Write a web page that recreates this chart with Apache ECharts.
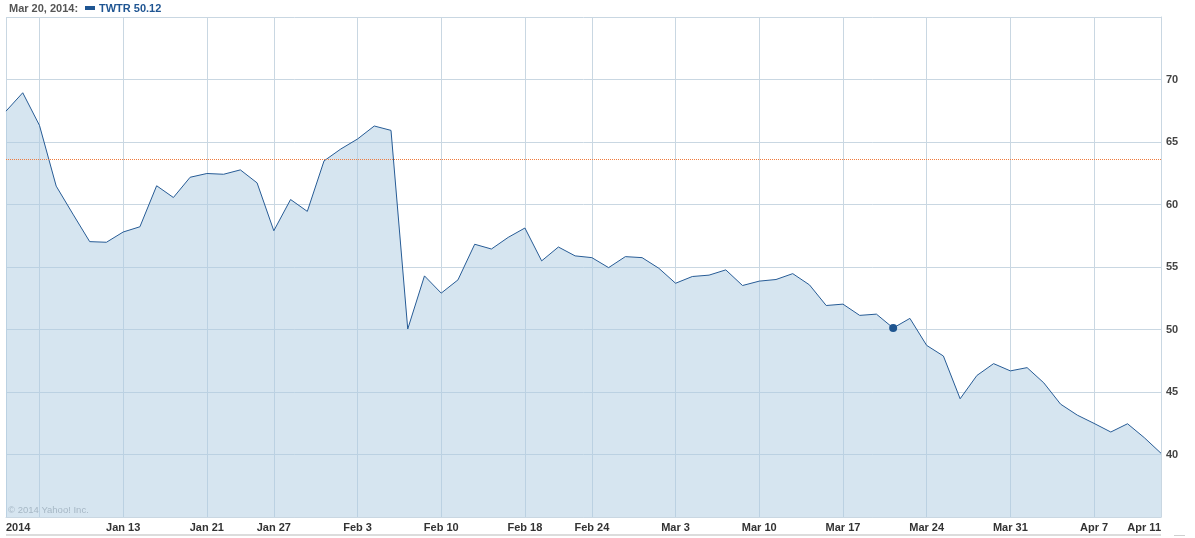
<!DOCTYPE html>
<html>
<head>
<meta charset="utf-8">
<script src="https://cdn.jsdelivr.net/npm/echarts@6/dist/echarts.min.js"></script>
<style>
html,body{margin:0;padding:0;background:#fff;}
#chart{width:1195px;height:538px;}
</style>
</head>
<body>
<div id="chart"></div>
<script>
// Trading days, Jan 2 – Apr 11, 2014
const dates = [
  '2014-01-02','2014-01-03','2014-01-06','2014-01-07','2014-01-08','2014-01-09','2014-01-10',
  '2014-01-13','2014-01-14','2014-01-15','2014-01-16','2014-01-17',
  '2014-01-21','2014-01-22','2014-01-23','2014-01-24',
  '2014-01-27','2014-01-28','2014-01-29','2014-01-30','2014-01-31',
  '2014-02-03','2014-02-04','2014-02-05','2014-02-06','2014-02-07',
  '2014-02-10','2014-02-11','2014-02-12','2014-02-13','2014-02-14',
  '2014-02-18','2014-02-19','2014-02-20','2014-02-21',
  '2014-02-24','2014-02-25','2014-02-26','2014-02-27','2014-02-28',
  '2014-03-03','2014-03-04','2014-03-05','2014-03-06','2014-03-07',
  '2014-03-10','2014-03-11','2014-03-12','2014-03-13','2014-03-14',
  '2014-03-17','2014-03-18','2014-03-19','2014-03-20','2014-03-21',
  '2014-03-24','2014-03-25','2014-03-26','2014-03-27','2014-03-28',
  '2014-03-31','2014-04-01','2014-04-02','2014-04-03','2014-04-04',
  '2014-04-07','2014-04-08','2014-04-09','2014-04-10','2014-04-11'
];
const closes = [
  67.47,68.94,66.33,61.47,59.23,57.03,56.98,
  57.80,58.22,61.50,60.56,62.18,
  62.48,62.42,62.77,61.73,
  57.90,60.40,59.45,63.49,64.44,
  65.24,66.28,65.93,50.04,54.29,
  52.91,53.97,56.82,56.44,57.37,
  58.12,55.49,56.60,55.89,
  55.75,54.95,55.83,55.75,54.90,
  53.70,54.24,54.35,54.77,53.52,
  53.87,54.00,54.47,53.57,51.92,
  52.03,51.13,51.23,50.12,50.89,
  48.73,47.88,44.46,46.32,47.27,
  46.69,46.95,45.73,44.03,43.15,
  42.49,41.80,42.46,41.35,40.10
];
// x-axis tick labels (date -> text)
const tickDates  = ['2014-01-02','2014-01-13','2014-01-21','2014-01-27','2014-02-03','2014-02-10','2014-02-18','2014-02-24','2014-03-03','2014-03-10','2014-03-17','2014-03-24','2014-03-31','2014-04-07','2014-04-11'];
const tickLabels = ['2014','Jan 13','Jan 21','Jan 27','Feb 3','Feb 10','Feb 18','Feb 24','Mar 3','Mar 10','Mar 17','Mar 24','Mar 31','Apr 7','Apr 11'];
// vertical grid lines (week starts)
const gridDates = ['2014-01-02','2014-01-06','2014-01-13','2014-01-21','2014-01-27','2014-02-03','2014-02-10','2014-02-18','2014-02-24','2014-03-03','2014-03-10','2014-03-17','2014-03-24','2014-03-31','2014-04-07'];
const yTicks = [40,45,50,55,60,65,70];
const refLine = 63.64;
const highlightDate = '2014-03-20';
const headerDate = 'Mar 20, 2014:';
const seriesName = 'TWTR';

const labelMap = {};
tickDates.forEach((d,i)=>labelMap[d]=tickLabels[i]);
const gridSet = new Set(gridDates);
const hiIdx = dates.indexOf(highlightDate);

const chart = echarts.init(document.getElementById('chart'), null, {renderer:'canvas'});
const gridColor = '#c9d7e2';
const refColor = '#f07a3c';
const font = '"Liberation Sans", Arial, sans-serif';

chart.setOption({
  animation:false,
  grid:{left:6, right:34, top:17, bottom:21},
  xAxis:{
    type:'category',
    data:dates,
    boundaryGap:false,
    axisLine:{show:true, lineStyle:{color:gridColor, width:1}},
    axisTick:{show:false},
    splitLine:{show:true, interval:(i,v)=>gridSet.has(v), lineStyle:{color:gridColor, width:1}},
    axisLabel:{
      show:true,
      interval:(i,v)=>v in labelMap,
      formatter:(v)=>labelMap[v]||'',
      color:'#333', fontWeight:'bold', fontSize:11, fontFamily:font,
      margin:5,
      alignMinLabel:'left', alignMaxLabel:'right'
    }
  },
  yAxis:{
    type:'value',
    position:'right',
    min:35, max:75, interval:5,
    axisLine:{show:true, lineStyle:{color:gridColor}},
    axisTick:{show:false},
    splitLine:{show:true, lineStyle:{color:gridColor}},
    axisLabel:{
      formatter:(v)=>yTicks.includes(v)?String(v):'',
      color:'#444', fontWeight:'bold', fontSize:11, fontFamily:font, margin:5
    }
  },
  series:[
    {
      name:seriesName,
      type:'line',
      data:closes,
      symbol:'none',
      lineStyle:{color:'#265b95', width:1},
      areaStyle:{color:'rgba(173,203,225,0.5)', opacity:1, origin:'start'},
      z:2
    },
    {
      type:'line',
      data:[],
      markLine:{
        symbol:['none','none'],
        label:{show:false},
        lineStyle:{color:refColor, type:[1,1], width:1},
        data:[{yAxis:refLine}]
      },
      z:3
    },
    {
      type:'scatter',
      data:[[highlightDate, closes[hiIdx]]],
      symbol:'circle', symbolSize:8,
      itemStyle:{color:'#1f5590', opacity:1},
      z:4
    }
  ],
  graphic:[
    {type:'text', left:9, top:3, style:{text:headerDate, fill:'#555', font:'bold 11px '+font}},
    {type:'rect', shape:{x:85, y:6, width:10, height:4}, style:{fill:'#1f5592'}},
    {type:'text', left:99, top:3, style:{text:seriesName+' '+closes[hiIdx].toFixed(2), fill:'#1f5592', font:'bold 11px '+font}},
    {type:'text', left:8, top:505, z:10, style:{text:'© 2014 Yahoo! Inc.', fill:'#a7b8c6', font:'9.5px '+font}},
    {type:'rect', shape:{x:6, y:534, width:1155, height:2}, style:{fill:'#dcdcdc'}},
    {type:'rect', shape:{x:1174, y:535, width:11, height:1}, style:{fill:'#cfcfcf'}}
  ]
});
</script>
</body>
</html>
